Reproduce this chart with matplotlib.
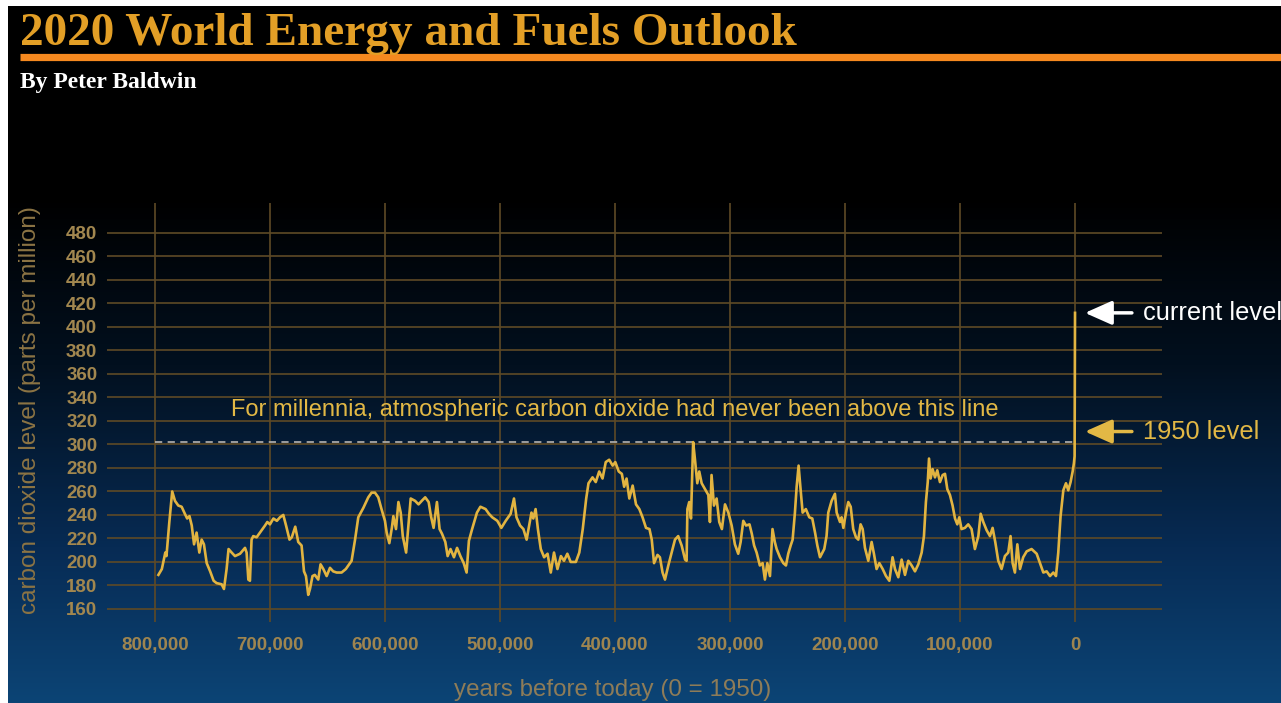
import numpy as np
import matplotlib
matplotlib.use("Agg")
import matplotlib.pyplot as plt
from matplotlib.colors import LinearSegmentedColormap
from matplotlib.lines import Line2D

# CO2 record: thousands of years before 1950, ppm
kyr_a = [797, 794, 791, 790, 787.5, 785, 782.6, 779.7, 776.8, 774, 772, 770, 768, 766, 763.8, 761.4,
         759.4, 757.4, 755, 752, 749, 746.4, 742, 740, 737.7, 736, 733.3, 730.4, 726, 721.7, 720.3,
         718.8, 717.4, 716, 714.5, 711.6, 708.7, 704.3, 702.3, 700, 697, 694, 691.3, 688.4, 686, 683,
         681, 678, 675.4, 672.5, 670.4, 668.7, 666.7, 665.2, 663, 661, 658, 656, 653.6, 650.7, 647.8,
         645, 642, 637.7, 634, 630.4, 629, 626, 623.2, 618.8, 614.5, 611.6, 608.7, 605.8, 603, 600]
ppm_a = [189, 194, 208, 205, 234, 260, 252, 248, 247, 241, 237, 239, 231, 215, 225, 208,
         219, 215, 199, 192, 184, 182, 181, 177, 194, 211, 208, 205, 207, 212, 208,
         185, 184, 219, 222, 221, 225, 231, 234, 232, 237, 235, 238, 240, 231, 219,
         221, 230, 217, 214, 192, 188, 172, 177, 188, 189, 185, 198, 194, 188, 195,
         192, 191, 191, 194, 199, 201, 219, 238, 246, 255, 259, 259, 255, 245, 235]

kyr_b = [598.5, 596.2, 594, 592.7, 590.4, 588.3, 586.3, 584.5, 581.6, 579.6, 577.6, 573.8, 570.8, 568,
         565, 562, 560, 557.7, 554.8, 552.5, 550.4, 547.5, 545.5, 543, 540, 537.3, 534.4, 531.5, 529,
         527, 524.2, 520, 517, 512.5, 509.6, 506.7, 502.3, 498.8, 495, 490.7, 487.8, 485.6, 482.5,
         479.6, 476.8, 474.6, 472.6, 471, 469, 467, 464.5, 461.6, 458.6, 455.8, 453, 450, 447, 444.3,
         441.4, 438.5, 434, 431, 428, 425, 423, 419.5, 416.7, 413.7, 410.8, 408, 405, 402, 399.7, 396.7]
ppm_b = [225, 216, 229, 239, 228, 251, 242, 222, 208, 231, 254, 252, 249, 252,
         255, 251, 239, 229, 251, 228, 224, 217, 205, 211, 204, 212, 205, 199, 191,
         218, 228, 242, 247, 245, 241, 238, 235, 229, 235, 241, 254, 238, 231,
         228, 219, 231, 242, 237, 245, 228, 211, 204, 207, 191, 208, 194, 205, 201,
         207, 200, 200, 208, 228, 254, 267, 272, 268, 277, 271, 285, 287, 282, 285, 277]

kyr_c = [394, 392, 389.9, 387.5, 384.6, 381.7, 378.8, 376, 373, 370, 368, 366, 363, 360.9, 358.6,
         356.5, 353.6, 350.7, 347.8, 345, 342, 339, 337.7, 337, 335.4, 333.9, 332, 330.4, 328.4,
         326.7, 324.6, 321.7, 318.8, 317.4, 316, 313.9, 311.6, 309.3, 307, 304.3, 301.4, 298.5,
         295.7, 292.8, 290.7, 288.4, 286, 283, 281, 279, 276.8, 274, 271.6, 269.6, 267.5, 265.2,
         263, 261, 259.4, 256.5, 253.6, 251.3, 249.3, 247.2, 245.5, 243.5, 242, 240.3, 238.6,
         236.8, 234, 231, 228.4, 226, 224, 221.7, 218, 216, 214.5, 211.6, 208.7, 207.2, 204.3]
ppm_c = [275, 264, 271, 254, 265, 249, 245, 238, 229, 228, 219, 199, 206, 204, 191,
         185, 197, 208, 219, 222, 214, 202, 201, 245, 251, 237, 302, 287, 267,
         277, 267, 262, 257, 234, 274, 248, 254, 234, 228, 249, 242, 231,
         215, 207, 217, 235, 231, 232, 224, 214, 208, 197, 199, 185, 199, 188,
         228, 217, 211, 204, 199, 197, 207, 214, 219, 242, 264, 282, 262,
         242, 245, 238, 237, 225, 214, 204, 211, 222, 242, 252, 258, 242, 234]

kyr_d = [202.9, 201.4, 199.1, 197.1, 195, 192.8, 190.4, 188.4, 186.4, 184.6, 182.6, 179.7, 176.8,
         174.8, 172.5, 170.1, 167.2, 164.3, 161.4, 158.6, 156.5, 153.6, 150.7, 147.8, 144.9, 142,
         139.1, 136.2, 133.3, 131.3, 129.6, 128, 126.9, 125.5, 123.8, 121.7, 119.7, 117.4, 115, 113,
         111, 108.7, 106.4, 104.3, 102.3, 100.6, 98.6, 95.7, 92.8, 89.9, 87, 84, 82, 79.7, 76.8,
         73.9, 71.6, 69.3, 66.7, 63.8, 60.9, 58, 56, 54.2, 52.2, 50.1, 47.8, 45, 42, 37.7, 33.3,
         30.4, 27.5, 24.6, 21.7, 18.8, 16.5, 14.5, 12.5, 10.1, 7.8, 5.8, 3.8, 2, 0.9, 0.3, -0.07]
ppm_d = [238, 229, 242, 251, 247, 228, 221, 219, 232, 228, 212, 201, 217,
         207, 194, 199, 194, 188, 184, 204, 194, 187, 202, 189, 201, 197,
         192, 198, 208, 222, 251, 268, 288, 271, 279, 272, 278, 268, 274, 275,
         262, 257, 248, 237, 232, 238, 228, 229, 232, 228, 211, 222, 241, 234, 227,
         222, 229, 217, 201, 194, 205, 208, 222, 199, 191, 215, 194, 204, 209, 211, 207,
         199, 191, 192, 188, 191, 188, 208, 239, 261, 267, 261, 268, 277, 284, 290, 412]

years_k = np.array(kyr_a + kyr_b + kyr_c + kyr_d)
co2 = np.array(ppm_a + ppm_b + ppm_c + ppm_d)

ppm_ticks = list(range(160, 500, 20))
year_ticks = [800, 700, 600, 500, 400, 300, 200, 100, 0]
year_labels = ["800,000", "700,000", "600,000", "500,000", "400,000",
               "300,000", "200,000", "100,000", "0"]
millennia_line = 302
level_1950 = 311

W, H = 1281, 703
fig = plt.figure(figsize=(W / 100, H / 100), dpi=100)

# background gradient: black at top, deep blue at the bottom
bg = fig.add_axes([0, 0, 1, 1], zorder=-10)
cmap = LinearSegmentedColormap.from_list(
    "bg", [(0.0, "#000000"), (0.28, "#000000"), (0.52, "#02101f"),
           (0.78, "#072b54"), (1.0, "#0c4475")])
grad = np.linspace(0, 1, 256).reshape(-1, 1)
bg.imshow(grad, aspect="auto", cmap=cmap, extent=[0, 1, 0, 1], origin="upper")
bg.set_xlim(0, 1)
bg.set_ylim(0, 1)
bg.axis("off")
# white page margins (screenshot edges)
bg.add_patch(plt.Rectangle((0, 0), 8 / W, 1, color="white", lw=0))
bg.add_patch(plt.Rectangle((0, 1 - 6 / H), 1, 6 / H, color="white", lw=0))

# header
fig.text(20 / W, 1 - 45 / H, "2020 World Energy and Fuels Outlook", color="#e39f26",
         fontsize=34, fontweight="bold", family="Liberation Serif", va="baseline")
fig.add_artist(Line2D([20 / W, 1], [1 - 57 / H, 1 - 57 / H], color="#f5891f", lw=5.2,
                      solid_capstyle="butt"))
fig.text(20 / W, 1 - 88 / H, "By Peter Baldwin", color="white",
         fontsize=17, fontweight="bold", family="Liberation Serif", va="baseline")

ax = fig.add_axes([107 / W, 81 / H, 1055 / W, 419 / H])
ax.set_facecolor("none")
ax.set_xlim(841.7, -75.7)
ax.set_ylim(148.9, 505.5)
for s in ax.spines.values():
    s.set_visible(False)

grid_c = "#5e4a26"
for v in ppm_ticks:
    ax.axhline(v, color=grid_c, lw=1.2, zorder=1)
for v in year_ticks:
    ax.axvline(v, color=grid_c, lw=1.2, zorder=1)

ax.hlines(millennia_line, year_ticks[0], year_ticks[-1], colors="#a8a8a8",
          linestyles=(0, (4, 3)), lw=1.3, zorder=2)
ax.plot(years_k, co2, color="#e2b441", lw=1.9, zorder=3)

ax.set_yticks(ppm_ticks)
ax.set_yticklabels([str(v) for v in ppm_ticks])
ax.set_xticks(year_ticks)
ax.set_xticklabels(year_labels)
ax.tick_params(length=0)
ax.tick_params(axis="y", pad=7, labelsize=13.5, labelcolor="#a2874f")
ax.tick_params(axis="x", pad=11, labelsize=13.5, labelcolor="#9e8550")
for t in ax.get_yticklabels() + ax.get_xticklabels():
    t.set_fontweight("bold")
    t.set_family("Liberation Sans")

ax.text(400, 329, "For millennia, atmospheric carbon dioxide had never been above this line",
        color="#e2b845", fontsize=17, ha="center", va="center", family="Liberation Sans")

tr = ax.get_yaxis_transform()
ax.annotate("current level", xy=(0.927, co2[-1]), xycoords=tr,
            xytext=(0.982, co2[-1]), textcoords=tr, color="white", fontsize=18.3,
            va="center", ha="left", family="Liberation Sans", annotation_clip=False,
            arrowprops=dict(arrowstyle="-|>,head_length=0.9,head_width=0.4",
                            color="white", lw=2.5, shrinkA=6, shrinkB=0))
ax.annotate("1950 level", xy=(0.927, level_1950), xycoords=tr,
            xytext=(0.982, level_1950), textcoords=tr, color="#e2b845", fontsize=18.3,
            va="center", ha="left", family="Liberation Sans", annotation_clip=False,
            arrowprops=dict(arrowstyle="-|>,head_length=0.9,head_width=0.4",
                            color="#e2b845", lw=2.5, shrinkA=6, shrinkB=0))

fig.text(30 / W, 1 - 410 / H, "carbon dioxide level (parts per million)", rotation=90,
         color="#8c7444", fontsize=17.5, ha="center", va="center", family="Liberation Sans")
fig.text(613 / W, 1 - 690 / H, "years before today (0 = 1950)", color="#8e7c58",
         fontsize=17.4, ha="center", va="center", family="Liberation Sans")

fig.savefig("out.png", dpi=100)
